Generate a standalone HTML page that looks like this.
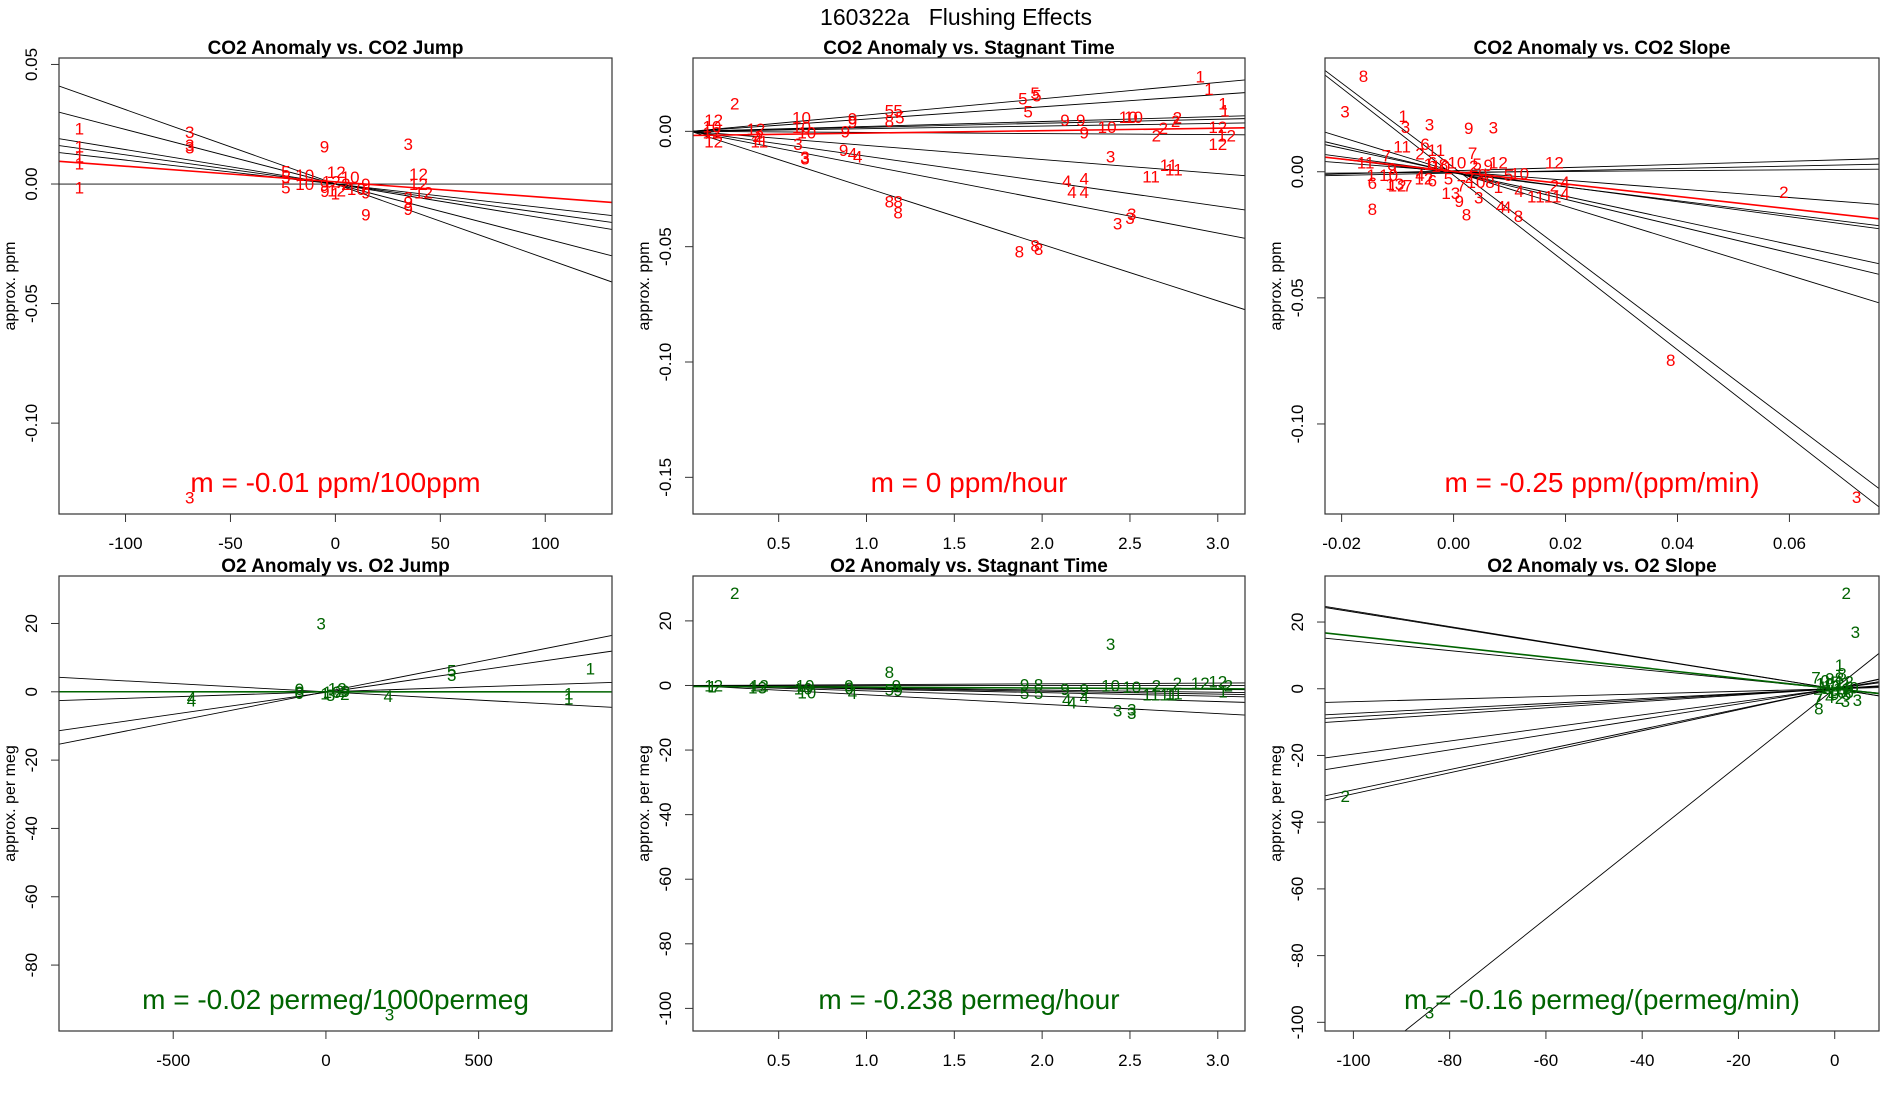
<!DOCTYPE html>
<html><head><meta charset="utf-8">
<style>
html,body{margin:0;padding:0;background:#fff;}
svg{display:block;font-family:"Liberation Sans",sans-serif;}
</style></head>
<body>
<svg id="chart" width="1900" height="1100" viewBox="0 0 1900 1100" xmlns="http://www.w3.org/2000/svg">
<rect width="1900" height="1100" fill="#fff"/>
<text x="956" y="25" font-size="23" text-anchor="middle" xml:space="preserve">160322a   Flushing Effects</text>
</svg>
<script>
// ---------- Panel 1: CO2 Anomaly vs CO2 Jump ----------
const p1X = [-122,-122,-122,-122,-122,-69.4,-69.4,-69.4,-69.4,-5.2,34.7,-23.6,-23.6,-23.6,-14.6,-14.6,0.4,-5.2,0.6,7,14.5,14.5,14.5,39.6,39.6,42,34.7,34.7,34.7,0,5,-5,10,-2];
const p1Y = [0.0232,0.0157,0.0115,0.0085,-0.0014,0.0217,0.0164,0.0153,-0.131,0.0157,0.0168,0.0052,0.003,-0.0015,0.0038,0,0.005,-0.0005,-0.0028,0.003,0,-0.0036,-0.0127,0.0042,0,-0.0036,-0.0056,-0.0075,-0.0105,-0.004,0,-0.003,-0.002,0.001];
const p1L = ["1","1","1","1","1","3","3","3","3","9","3","5","5","5","10","10","12","9","12","10","9","9","9","12","12","12","3","9","9","1","2","9","10","12"];
const p1Slopes = [-0.000311,-0.000228,-0.000144,-0.000122,-0.0001,0];
const p1Ints = [0,0,0,0,0,0];
const p1FitSlope = -0.0000653, p1FitInt = 0.0009;

// ---------- Panel 2: CO2 Anomaly vs Stagnant Time ----------
const p2X = [2.9,2.95,3.03,3.04,0.25,2.77,2.65,2.69,2.76,1.13,1.18,1.89,1.96,1.97,1.92,1.19,1.13,1.13,1.18,1.18,1.87,1.96,1.98,0.92,0.92,0.88,0.87,2.13,2.22,2.24,0.63,0.63,0.66,2.37,2.49,2.52,0.13,0.12,0.13,3.0,3.05,3.0,2.62,2.72,2.75,0.39,0.61,0.65,0.65,2.39,2.43,2.51,2.5,0.92,0.95,2.14,2.24,2.17,2.24,0.37,0.39,0.12,0.38];
const p2Y = [0.0237,0.0183,0.0121,0.009,0.0121,0.006,-0.0018,0.0015,0.0045,0.009,0.009,0.0143,0.0167,0.0155,0.0085,0.0059,0.0045,-0.0305,-0.0305,-0.0351,-0.0522,-0.0495,-0.051,0.0055,0.004,-0.0001,-0.0081,0.005,0.005,-0.0005,0.0059,0.0018,-0.0005,0.0018,0.0062,0.0062,0.005,-0.0005,-0.0045,0.0018,-0.0018,-0.0055,-0.0195,-0.0145,-0.0165,-0.0045,-0.0055,-0.0111,-0.0118,-0.011,-0.04,-0.0358,-0.0375,-0.0095,-0.011,-0.0215,-0.0205,-0.0262,-0.0262,0.001,-0.002,0.002,-0.003];
const p2L = ["1","1","1","1","2","2","2","2","2","5","5","5","5","5","5","5","8","8","8","8","8","8","8","9","9","9","9","9","9","9","10","10","10","10","10","10","12","12","12","12","12","12","11","11","11","11","3","3","3","3","3","3","3","4","4","4","4","4","4","12","2","10","4"];
const p2Slopes = [0.00707,0.00532,0.00213,0.00175,0.00115,-0.00048,-0.0061,-0.0108,-0.0147,-0.0245];
const p2Ints = [0,0,0,0,0,0,0,0,0,0];
const p2FitSlope = 0.00105, p2FitInt = -0.0018;

// ---------- Panel 3: CO2 Anomaly vs CO2 Slope ----------
const p3X = [-0.0161,-0.0194,-0.009,-0.0086,-0.0043,0.0027,0.0071,-0.0051,-0.0092,-0.0031,-0.012,0.0034,-0.0157,0.018,0.059,-0.0145,-0.0145,-0.0147,-0.0101,-0.0116,0.001,-0.0005,0.0045,0.0023,0.0084,0.0095,0.0116,0.0117,0.0147,0.0177,0.018,0.0199,0.0199,0.0388,0.072,0.0118,0.008,0.0042,0.0036,0.0062,0.0006,-0.0009,0.0014,0.004,0.0065,0.008,0.0098,-0.006,-0.0053,-0.0038,-0.0045,-0.006,-0.0023,-0.0038,-0.011,-0.0105,-0.0082,-0.0018,0.0028,0.0052];
const p3Y = [0.038,0.0238,0.0221,0.0178,0.0188,0.0174,0.0176,0.011,0.01,0.0086,0.0065,0.0075,0.0037,0.0037,-0.0081,-0.0147,-0.0044,-0.0013,-0.0055,-0.0013,-0.0115,-0.0084,-0.0102,-0.0169,-0.0137,-0.014,-0.0176,-0.0077,-0.0098,-0.0098,-0.0055,-0.0041,-0.0086,-0.0746,-0.129,-0.0006,0.0037,0.003,0.0023,0.0027,0.0037,-0.0027,-0.0055,-0.0041,-0.0041,-0.006,-0.0013,0.0072,-0.0027,-0.0034,0.003,-0.0013,0.0023,0.0037,0.0013,-0.0048,-0.0055,0.0028,-0.002,-0.001];
const p3L = ["8","3","1","3","3","9","3","6","11","11","7","7","11","12","2","8","6","1","12","10","9","13","3","8","4","4","8","4","11","11","2","4","4","8","3","10","12","5","2","9","10","5","7","10","8","1","5","2","12","6","1","4","10","6","9","13","7","8","2","9"];
const p3Slopes = [-1.675,-1.73,-0.684,-0.531,-0.477,-0.297,-0.275,-0.172,0.0626,0.046,0.016];
const p3Ints = [0.0017,-0.0014,0,-0.0003,-0.0002,0,-0.0005,0.0001,0.0004,-0.0005,-0.0002];
const p3FitSlope = -0.247, p3FitInt = 0.0001;

// ---------- Panel 4: O2 Anomaly vs O2 Jump ----------
const p4X = [-15.7,866,412,412,-440,-440,204,795,795,208,-87,-87,-3,37,45,62,64,20,15,-87];
const p4Y = [20,6.8,6.3,4.9,-1.6,-2.6,-1.3,-0.5,-2,-94.5,0.8,-0.4,-0.5,1,0.2,-0.6,0.3,0,-1,0];
const p4L = ["3","1","5","3","4","4","4","1","1","3","0","0","1","12","2","2","9","10","3","8"];
const p4Slopes = [-0.00486,0.00294,0.01287,0.01759];
const p4Ints = [0,0,-0.15,0.03];
const p4FitSlope = -0.00002, p4FitInt = 0;

// ---------- Panel 5: O2 Anomaly vs Stagnant Time ----------
const p5X = [0.25,2.39,1.13,2.43,2.51,2.51,2.14,2.17,2.24,0.13,0.12,0.39,0.65,0.66,0.9,0.92,1.17,1.13,1.9,1.98,1.9,1.98,2.13,2.24,2.39,2.51,2.65,2.77,2.62,2.72,2.9,3.0,3.06,3.03,2.75,0.38,0.64,1.18,0.9];
const p5Y = [28.6,12.9,4.1,-7.7,-7.5,-8.6,-4.4,-5.2,-3.8,0,-0.3,0,0,-2.2,0,-2.4,0,-1.3,0.3,0.3,-2.4,-2.4,-1.1,-1.3,0,-0.5,0,0.8,-2.8,-2.8,0.8,1.2,0,-1.9,-2.5,-0.6,-1,-1.4,-0.8];
const p5L = ["2","3","8","3","3","3","4","4","4","12","1","12","10","10","9","4","9","5","9","8","5","5","9","9","10","10","2","2","11","11","12","12","2","1","11","13","10","9","6"];
const p5Slopes = [0.25,0,-0.41,-0.7,-0.89,-1.11,-1.66,-2.9];
const p5Ints = [0,0,0,0,0,0,0,0];
const p5FitSlope = -0.238, p5FitInt = -0.3;

// ---------- Panel 6: O2 Anomaly vs O2 Slope ----------
const p6X = [2.4,4.3,1,-101.7,-84.2,-3.3,-3.9,2.2,4.7,-2,-1,0,1,2,3,-2.5,-1.5,-0.5,0.5,1.5,2.5,-3,-1,1,3,0,-2,2,-3.5,1.5,4];
const p6Y = [28.7,17,7.1,-32.1,-97.1,-5.9,3.4,-3.7,-3.3,2.5,3.1,2,3.2,1.5,0.5,0.5,-0.5,1,-1,0,-1.5,-2,-2.5,-2.8,-1,-1.5,1.5,2.2,-3,4.5,0.3];
const p6L = ["2","3","1","2","3","8","7","3","3","0","9","5","8","2","6","1","4","12","10","11","5","7","4","2","6","9","10","12","7","8","0"];
const p6Slopes = [-0.233,-0.23,-0.143,0.0387,0.0737,0.084,0.0954,0.196,0.229,0.303,0.315,1.149];
const p6Ints = [0,0,0,0,0,0,0,0,0,0,0,0.03];
const p6FitSlope = -0.158, p6FitInt = 0;

// ---------- Tick arrays ----------
const p1XTicks = [-100,-50,0,50,100], p1XTickLab = ["-100","-50","0","50","100"];
const p1YTicks = [0.05,0,-0.05,-0.1], p1YTickLab = ["0.05","0.00","-0.05","-0.10"];
const p2XTicks = [0.5,1,1.5,2,2.5,3], p2XTickLab = ["0.5","1.0","1.5","2.0","2.5","3.0"];
const p2YTicks = [0,-0.05,-0.1,-0.15], p2YTickLab = ["0.00","-0.05","-0.10","-0.15"];
const p3XTicks = [-0.02,0,0.02,0.04,0.06], p3XTickLab = ["-0.02","0.00","0.02","0.04","0.06"];
const p3YTicks = [0,-0.05,-0.1], p3YTickLab = ["0.00","-0.05","-0.10"];
const p4XTicks = [-500,0,500], p4XTickLab = ["-500","0","500"];
const p4YTicks = [20,0,-20,-40,-60,-80], p4YTickLab = ["20","0","-20","-40","-60","-80"];
const p5XTicks = [0.5,1,1.5,2,2.5,3], p5XTickLab = ["0.5","1.0","1.5","2.0","2.5","3.0"];
const p5YTicks = [20,0,-20,-40,-60,-80,-100], p5YTickLab = ["20","0","-20","-40","-60","-80","-100"];
const p6XTicks = [-100,-80,-60,-40,-20,0], p6XTickLab = ["-100","-80","-60","-40","-20","0"];
const p6YTicks = [20,0,-20,-40,-60,-80,-100], p6YTickLab = ["20","0","-20","-40","-60","-80","-100"];

const NS = "http://www.w3.org/2000/svg";
const svg = document.getElementById("chart");
function mk(tag, attrs, parent){ const e=document.createElementNS(NS,tag); for(const k in attrs) e.setAttribute(k,attrs[k]); (parent||svg).appendChild(e); return e; }

const panels = [
 {id:"co2-jump", title:"CO2 Anomaly vs. CO2 Jump", L:59, R:612, T:58, B:514, x0:-131.7, x1:131.8, y0:-0.138, y1:0.0527,
  X:p1X,Y:p1Y,Lb:p1L,S:p1Slopes,I:p1Ints,fs:p1FitSlope,fi:p1FitInt,xt:p1XTicks,xl:p1XTickLab,yt:p1YTicks,yl:p1YTickLab,
  col:"#ff0000", ylab:"approx. ppm", m:"m = -0.01 ppm/100ppm"},
 {id:"co2-stagnant", title:"CO2 Anomaly vs. Stagnant Time", L:693, R:1245, T:58, B:514, x0:0.0122, x1:3.155, y0:-0.1659, y1:0.0318,
  X:p2X,Y:p2Y,Lb:p2L,S:p2Slopes,I:p2Ints,fs:p2FitSlope,fi:p2FitInt,xt:p2XTicks,xl:p2XTickLab,yt:p2YTicks,yl:p2YTickLab,
  col:"#ff0000", ylab:"approx. ppm", m:"m = 0 ppm/hour"},
 {id:"co2-slope", title:"CO2 Anomaly vs. CO2 Slope", L:1325, R:1879, T:58, B:514, x0:-0.02297, x1:0.076, y0:-0.1357, y1:0.0451,
  X:p3X,Y:p3Y,Lb:p3L,S:p3Slopes,I:p3Ints,fs:p3FitSlope,fi:p3FitInt,xt:p3XTicks,xl:p3XTickLab,yt:p3YTicks,yl:p3YTickLab,
  col:"#ff0000", ylab:"approx. ppm", m:"m = -0.25 ppm/(ppm/min)"},
 {id:"o2-jump", title:"O2 Anomaly vs. O2 Jump", L:59, R:612, T:576, B:1031, x0:-874, x1:936.7, y0:-99.3, y1:33.9,
  X:p4X,Y:p4Y,Lb:p4L,S:p4Slopes,I:p4Ints,fs:p4FitSlope,fi:p4FitInt,xt:p4XTicks,xl:p4XTickLab,yt:p4YTicks,yl:p4YTickLab,
  col:"#006400", ylab:"approx. per meg", m:"m = -0.02 permeg/1000permeg"},
 {id:"o2-stagnant", title:"O2 Anomaly vs. Stagnant Time", L:693, R:1245, T:576, B:1031, x0:0.0122, x1:3.155, y0:-107, y1:33.9,
  X:p5X,Y:p5Y,Lb:p5L,S:p5Slopes,I:p5Ints,fs:p5FitSlope,fi:p5FitInt,xt:p5XTicks,xl:p5XTickLab,yt:p5YTicks,yl:p5YTickLab,
  col:"#006400", ylab:"approx. per meg", m:"m = -0.238 permeg/hour"},
 {id:"o2-slope", title:"O2 Anomaly vs. O2 Slope", L:1325, R:1879, T:576, B:1031, x0:-105.9, x1:9.2, y0:-102.6, y1:33.8,
  X:p6X,Y:p6Y,Lb:p6L,S:p6Slopes,I:p6Ints,fs:p6FitSlope,fi:p6FitInt,xt:p6XTicks,xl:p6XTickLab,yt:p6YTicks,yl:p6YTickLab,
  col:"#006400", ylab:"approx. per meg", m:"m = -0.16 permeg/(permeg/min)"}
];

panels.forEach((p, pi) => {
  const sx = v => p.L + (v - p.x0) / (p.x1 - p.x0) * (p.R - p.L);
  const sy = v => p.B - (v - p.y0) / (p.y1 - p.y0) * (p.B - p.T);
  const g = mk("g", {});
  
  
  const cp = mk("clipPath", {id:"clip"+pi}, g);
  mk("rect", {x:p.L, y:p.T, width:p.R-p.L, height:p.B-p.T}, cp);

  const t = mk("text", {x:(p.L+p.R)/2, y:p.T-4, "font-size":19, "font-weight":"bold", "text-anchor":"middle"}, g);
  t.textContent = p.title;
  
  

  const lg = mk("g", {"clip-path":"url(#clip"+pi+")"}, g);
  p.S.forEach((s, i) => {
    const ln = mk("line", {x1:sx(p.x0), y1:sy(p.I[i] + s*p.x0), x2:sx(p.x1), y2:sy(p.I[i] + s*p.x1), stroke:"#000", "stroke-width":0.9}, lg);
    
    
  });
  const fl = mk("line", {x1:sx(p.x0), y1:sy(p.fi + p.fs*p.x0), x2:sx(p.x1), y2:sy(p.fi + p.fs*p.x1), stroke:p.col, "stroke-width":1.6}, lg);
  
  

  p.X.forEach((x, i) => {
    const e = mk("text", {x:sx(x), y:sy(p.Y[i]) + 6, "font-size":17, fill:p.col, "text-anchor":"middle"}, g);
    e.textContent = p.Lb[i];
    
    
  });

  const m = mk("text", {x:(p.L+p.R)/2, y:p.B-22, "font-size":28, fill:p.col, "text-anchor":"middle"}, g);
  m.textContent = p.m;
  
  

  const bx = mk("rect", {x:p.L, y:p.T, width:p.R-p.L, height:p.B-p.T, fill:"none", stroke:"#333", "stroke-width":1.2}, g);
  
  

  p.xt.forEach((v, i) => {
    const x = sx(v);
    const tk = mk("line", {x1:x, y1:p.B, x2:x, y2:p.B+8, stroke:"#333", "stroke-width":1}, g);
    
    
    const tl = mk("text", {x:x, y:p.B+35, "font-size":17, "text-anchor":"middle"}, g);
    tl.textContent = p.xl[i];
    
    
  });
  p.yt.forEach((v, i) => {
    const y = sy(v);
    const tk = mk("line", {x1:p.L-8, y1:y, x2:p.L, y2:y, stroke:"#333", "stroke-width":1}, g);
    
    
    const lx = p.L - 22;
    const tl = mk("text", {x:lx, y:y, "font-size":17, "text-anchor":"middle", transform:"rotate(-90 "+lx+" "+y+")"}, g);
    tl.textContent = p.yl[i];
    
    
  });
  const ax = p.L - 44, ay = (p.T + p.B) / 2;
  const yt = mk("text", {x:ax, y:ay, "font-size":16, "text-anchor":"middle", transform:"rotate(-90 "+ax+" "+ay+")"}, g);
  yt.textContent = p.ylab;
  
  
});
</script>
</body></html>
